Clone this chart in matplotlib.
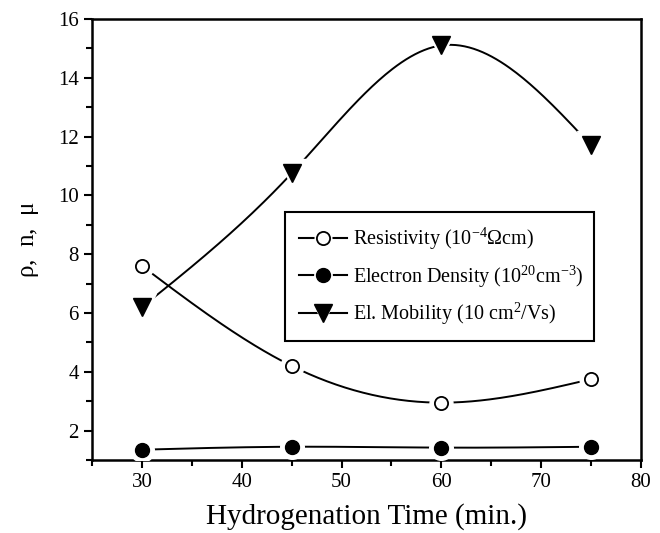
import numpy as np
import matplotlib
matplotlib.use("Agg")
import matplotlib.pyplot as plt
from matplotlib.lines import Line2D
from matplotlib.legend_handler import HandlerTuple
from matplotlib.ticker import MultipleLocator

plt.rcParams["font.family"] = ["Liberation Serif", "DejaVu Serif"]
plt.rcParams["mathtext.fontset"] = "custom"
plt.rcParams["mathtext.rm"] = "Liberation Serif"
plt.rcParams["mathtext.it"] = "Liberation Serif"

# hydrogenation time (min.)
time_min = [30, 45, 60, 75]
resistivity = [7.6, 4.2, 2.95, 3.75]       # 10^-4 Ohm cm
electron_density = [1.35, 1.45, 1.42, 1.45]  # 10^20 cm^-3
mobility = [6.2, 10.75, 15.1, 11.7]         # 10 cm^2/Vs

labels = [
    r"Resistivity (10$^{-4}$$\Omega$cm)",
    r"Electron Density (10$^{20}$cm$^{-3}$)",
    r"El. Mobility (10 cm$^{2}$/Vs)",
]


def natural_spline(x, y, n=200):
    # plain natural cubic spline, just to draw the smooth connecting line
    x = np.asarray(x, float)
    y = np.asarray(y, float)
    h = np.diff(x)
    m = len(x)
    A = np.zeros((m, m))
    b = np.zeros(m)
    A[0, 0] = A[-1, -1] = 1
    for i in range(1, m - 1):
        A[i, i - 1] = h[i - 1]
        A[i, i] = 2 * (h[i - 1] + h[i])
        A[i, i + 1] = h[i]
        b[i] = 6 * ((y[i + 1] - y[i]) / h[i] - (y[i] - y[i - 1]) / h[i - 1])
    M = np.linalg.solve(A, b)
    xs = np.linspace(x[0], x[-1], n)
    ys = np.empty_like(xs)
    for k, xv in enumerate(xs):
        i = min(np.searchsorted(x, xv, side="right") - 1, m - 2)
        t1 = x[i + 1] - xv
        t0 = xv - x[i]
        ys[k] = (M[i] * t1 ** 3 / (6 * h[i]) + M[i + 1] * t0 ** 3 / (6 * h[i])
                 + (y[i] / h[i] - M[i] * h[i] / 6) * t1
                 + (y[i + 1] / h[i] - M[i + 1] * h[i] / 6) * t0)
    return xs, ys


fig = plt.figure(figsize=(6.6, 5.33), dpi=100)
ax = fig.add_axes([0.1394, 0.137, 0.8318, 0.8274])

styles = [
    dict(marker="o", ms=9.5, mfc="white", mec="black", mew=1.3),
    dict(marker="o", ms=10, mfc="black", mec="black", mew=1.0),
    dict(marker="v", ms=12.5, mfc="black", mec="black", mew=1.0),
]
series = [resistivity, electron_density, mobility]

handles = []
for vals, st in zip(series, styles):
    xs, ys = natural_spline(time_min, vals)
    ax.plot(xs, ys, color="black", lw=1.4, zorder=2)
    # white halo so the line stops short of each marker
    ax.plot(time_min, vals, ls="none", marker=st["marker"], ms=st["ms"] + 7,
            mfc="white", mec="white", zorder=3)
    ax.plot(time_min, vals, ls="none", zorder=4, **st)
    h_line = Line2D([], [], color="black", lw=1.5)
    h_halo = Line2D([], [], ls="none", marker=st["marker"], ms=st["ms"] + 2.5,
                    mfc="white", mec="white")
    h_mark = Line2D([], [], ls="none", **st)
    handles.append((h_line, h_halo, h_mark))

ax.set_xlim(25, 80)
ax.set_ylim(1, 16)
ax.xaxis.set_major_locator(MultipleLocator(10))
ax.xaxis.set_minor_locator(MultipleLocator(5))
ax.yaxis.set_major_locator(MultipleLocator(2))
ax.yaxis.set_minor_locator(MultipleLocator(1))
ax.tick_params(which="both", direction="out", width=1.5, top=False, right=False,
               labelsize=15)
ax.tick_params(which="major", length=6)
ax.tick_params(which="minor", length=4)
for s in ax.spines.values():
    s.set_linewidth(1.8)

ax.set_xlabel("Hydrogenation Time (min.)", fontsize=21, labelpad=8)
ax.set_ylabel(r"$\rho$,  n,  $\mu$", fontsize=18, labelpad=12)

leg = ax.legend(handles, labels, handler_map={tuple: HandlerTuple(ndivide=1)},
                loc="upper left", bbox_to_anchor=(0.3515, 0.2766, 0.5625, 0.2854),
                mode="expand", fontsize=14.5, frameon=True, fancybox=False,
                framealpha=1, edgecolor="black", handlelength=2.4,
                handletextpad=0.3, labelspacing=0.55, borderpad=0.7,
                borderaxespad=0)
leg.get_frame().set_linewidth(1.5)
leg.set_zorder(5)

fig.savefig("out.png", dpi=100, facecolor="white")
